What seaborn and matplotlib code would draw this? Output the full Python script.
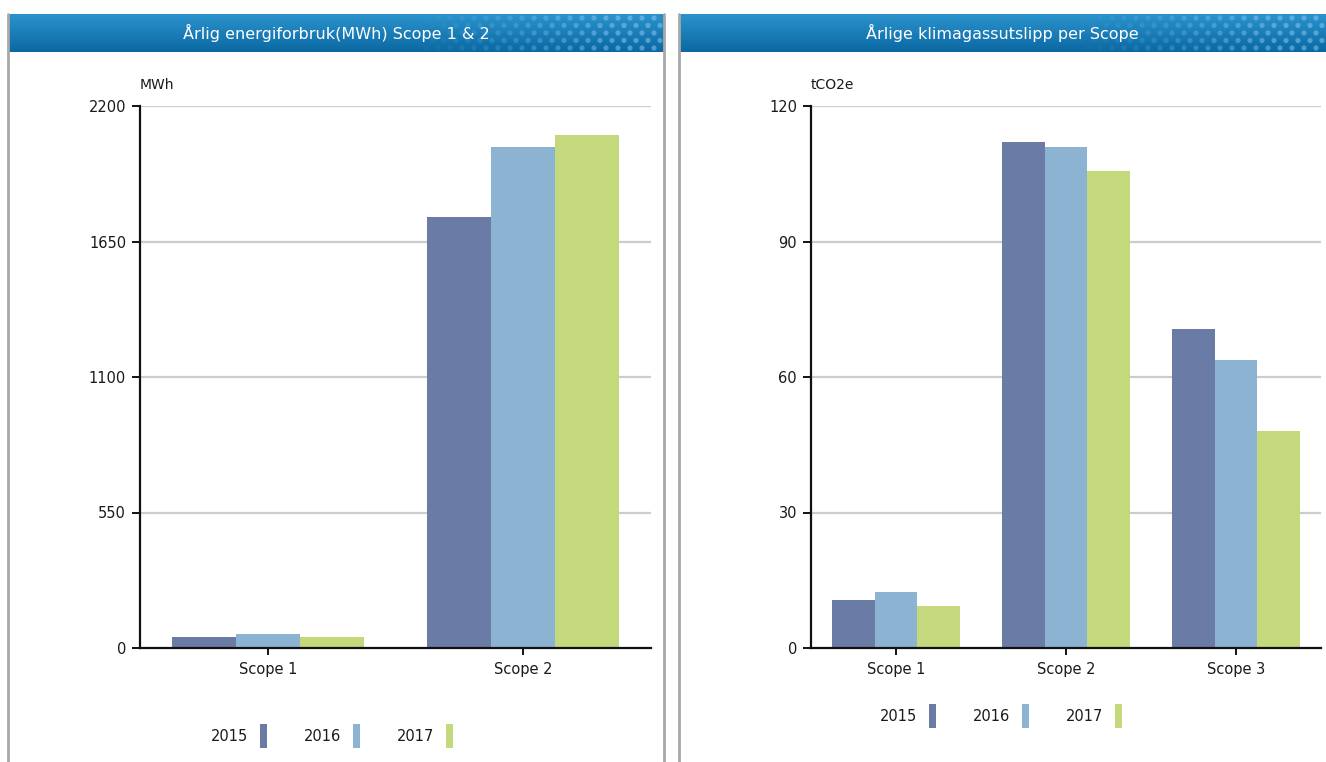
import matplotlib
matplotlib.use("Agg")
import matplotlib.pyplot as plt
import seaborn as sns
import numpy as np
import pandas as pd
from matplotlib.lines import Line2D

# data
years = ["2015", "2016", "2017"]
year_colors = ["#6a7ba6", "#8cb4d2", "#c4d87c"]

energy_scopes = ["Scope 1", "Scope 2"]
energy_2015 = [46, 1750]
energy_2016 = [56, 2034]
energy_2017 = [43, 2083]
energy_ticks = [0, 550, 1100, 1650, 2200]

ghg_scopes = ["Scope 1", "Scope 2", "Scope 3"]
ghg_2015 = [10.6, 112.0, 70.6]
ghg_2016 = [12.5, 110.9, 63.8]
ghg_2017 = [9.3, 105.6, 48.0]
ghg_ticks = [0, 30, 60, 90, 120]


def long_df(scopes, series):
    rows = []
    for yr, vals in zip(years, series):
        for sc, v in zip(scopes, vals):
            rows.append({"scope": sc, "year": yr, "value": v})
    return pd.DataFrame(rows)


energy_df = long_df(energy_scopes, [energy_2015, energy_2016, energy_2017])
ghg_df = long_df(ghg_scopes, [ghg_2015, ghg_2016, ghg_2017])

sns.set_theme(style="white")
plt.rcParams["font.family"] = ["DejaVu Sans"]

W, H = 1326, 762
fig = plt.figure(figsize=(W / 100, H / 100), dpi=100)
fig.patch.set_facecolor("white")


def fx(px):
    return px / W


def fy(py):
    return 1 - py / H


# panel borders
for xb in [8, 664, 679]:
    fig.add_artist(Line2D([fx(xb), fx(xb)], [0, fy(14)], color="#a9a9a9", lw=2,
                          transform=fig.transFigure))


def header(x0, x1, title):
    hax = fig.add_axes([fx(x0), fy(52), fx(x1 - x0), (52 - 14) / H])
    grad = np.linspace(0, 1, 64).reshape(-1, 1)
    cmap = matplotlib.colors.LinearSegmentedColormap.from_list("hdr", ["#2b93cc", "#0b68a3"])
    hax.imshow(grad, aspect="auto", cmap=cmap, extent=[0, 1, 0, 1], origin="upper")
    # dotted texture on the right side
    wpx = x1 - x0
    xs, ys, al = [], [], []
    for r, yy in enumerate(np.arange(4, 38, 7.5)):
        off = 0 if r % 2 == 0 else 6
        for xx in np.arange(wpx - 250 + off, wpx, 12):
            xs.append(xx / wpx)
            ys.append(1 - yy / 38)
            al.append(min(1, max(0, (xx - (wpx - 250)) / 200)) * 0.5)
    cols = [(0.55, 0.80, 0.95, a) for a in al]
    hax.scatter(xs, ys, s=14, c=cols, linewidths=0, transform=hax.transAxes)
    hax.text(0.5, 0.5, title, color="white", fontsize=11.5, ha="center", va="center",
             transform=hax.transAxes)
    hax.set_xlim(0, 1)
    hax.set_ylim(0, 1)
    hax.axis("off")


header(8, 664, "Årlig energiforbruk(MWh) Scope 1 & 2")
header(679, 1326, "Årlige klimagassutslipp per Scope")


def bar_panel(df, left_px, right_px, ticks, unit, legend_xy):
    ax = fig.add_axes([fx(left_px), fy(648), fx(right_px - left_px), (648 - 106) / H])
    sns.barplot(data=df, x="scope", y="value", hue="year", palette=year_colors,
                saturation=1, width=0.75, linewidth=0, ax=ax, errorbar=None)
    n = df["scope"].nunique()
    ax.set_xlim(-0.5, n - 0.5)
    ax.set_ylim(0, ticks[-1])
    ax.set_yticks(ticks)
    ax.set_yticklabels([str(t) for t in ticks])
    for t in ticks[1:]:
        ax.axhline(t, color="#cccccc", lw=1.6, zorder=0)
    ax.set_xlabel("")
    ax.set_ylabel("")
    for s in ["top", "right"]:
        ax.spines[s].set_visible(False)
    for s in ["left", "bottom"]:
        ax.spines[s].set_color("#111111")
        ax.spines[s].set_linewidth(1.6)
        ax.spines[s].set_zorder(5)
    ax.tick_params(axis="y", length=6, width=1.4, color="#111111", labelsize=10.5,
                   labelcolor="#1a1a1a", pad=4, left=True)
    ax.tick_params(axis="x", length=5, width=1.4, color="#111111", labelsize=10.5,
                   labelcolor="#1a1a1a", pad=5, bottom=True, direction="out")
    ax.text(0.0, fy(85), unit, transform=matplotlib.transforms.blended_transform_factory(
        ax.transAxes, fig.transFigure), fontsize=10, color="#1a1a1a", ha="left", va="center")
    handles, labels = ax.get_legend_handles_labels()
    ax.get_legend().remove()
    fig.legend(handles, labels, loc="center", bbox_to_anchor=legend_xy, ncol=3,
               frameon=False, markerfirst=False, fontsize=10.5, handlelength=0.5,
               handleheight=2.2, handletextpad=0.8, columnspacing=2.5,
               labelcolor="#1a1a1a")
    return ax


bar_panel(energy_df, 140, 651, energy_ticks, "MWh", (fx(332), fy(736)))
bar_panel(ghg_df, 811, 1321, ghg_ticks, "tCO2e", (fx(1001), fy(716)))

fig.savefig("out.png", dpi=100)
